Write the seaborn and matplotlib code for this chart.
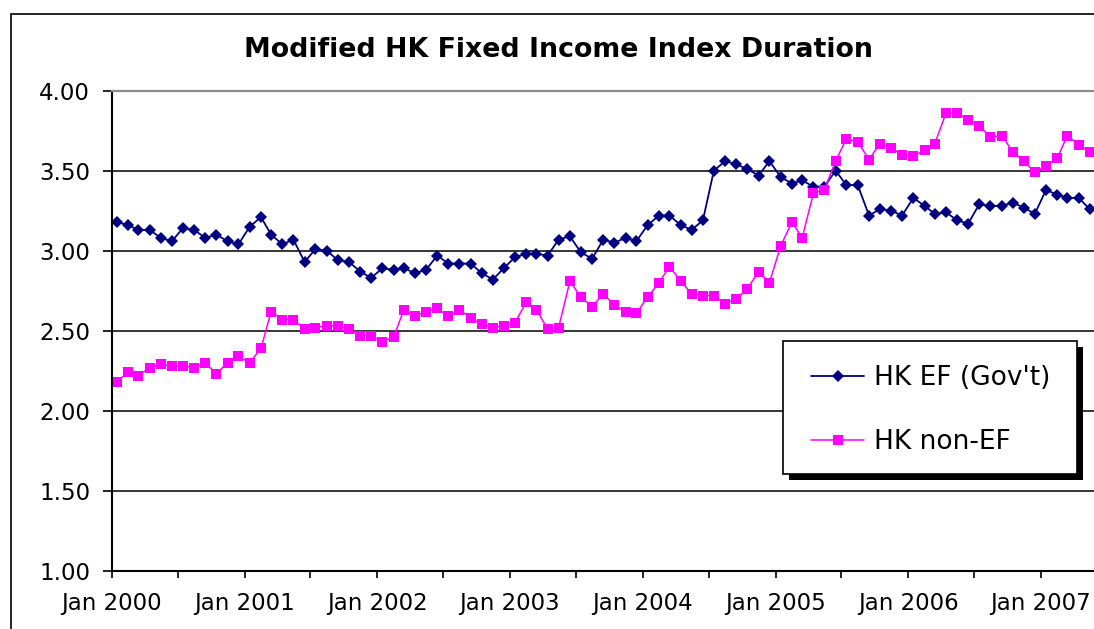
import matplotlib
matplotlib.use("Agg")
import matplotlib.pyplot as plt
import matplotlib.dates as mdates
from matplotlib.patches import Rectangle
import seaborn as sns
import pandas as pd

# monthly observations, Jan 2000 - May 2007 (plotted mid-month)
months = pd.date_range("2000-01-01", periods=89, freq="MS") + pd.Timedelta(days=14)

hk_ef = [3.18, 3.16, 3.13, 3.13, 3.08, 3.06, 3.14, 3.13, 3.08, 3.10, 3.06, 3.04,
         3.15, 3.21, 3.10, 3.04, 3.07, 2.93, 3.01, 3.00, 2.94, 2.93, 2.87, 2.83,
         2.89, 2.88, 2.89, 2.86, 2.88, 2.97, 2.92, 2.92, 2.92, 2.86, 2.82, 2.89,
         2.96, 2.98, 2.98, 2.97, 3.07, 3.09, 2.99, 2.95, 3.07, 3.05, 3.08, 3.06,
         3.16, 3.22, 3.22, 3.16, 3.13, 3.19, 3.50, 3.56, 3.54, 3.51, 3.47, 3.56,
         3.46, 3.42, 3.44, 3.40, 3.40, 3.50, 3.41, 3.41, 3.22, 3.26, 3.25, 3.22,
         3.33, 3.28, 3.23, 3.24, 3.19, 3.17, 3.29, 3.28, 3.28, 3.30, 3.27, 3.23,
         3.38, 3.35, 3.33, 3.33, 3.26]

hk_non_ef = [2.18, 2.24, 2.22, 2.27, 2.29, 2.28, 2.28, 2.27, 2.30, 2.23, 2.30, 2.34,
             2.30, 2.39, 2.62, 2.57, 2.57, 2.51, 2.52, 2.53, 2.53, 2.51, 2.47, 2.47,
             2.43, 2.46, 2.63, 2.59, 2.62, 2.64, 2.59, 2.63, 2.58, 2.54, 2.52, 2.53,
             2.55, 2.68, 2.63, 2.51, 2.52, 2.81, 2.71, 2.65, 2.73, 2.66, 2.62, 2.61,
             2.71, 2.80, 2.90, 2.81, 2.73, 2.72, 2.72, 2.67, 2.70, 2.76, 2.87, 2.80,
             3.03, 3.18, 3.08, 3.36, 3.38, 3.56, 3.70, 3.68, 3.57, 3.67, 3.64, 3.60,
             3.59, 3.63, 3.67, 3.86, 3.86, 3.82, 3.78, 3.71, 3.72, 3.62, 3.56, 3.49,
             3.53, 3.58, 3.72, 3.66, 3.62]

df = pd.DataFrame({"date": months, "ef": hk_ef, "non_ef": hk_non_ef})

sns.set_style("white")
plt.rcParams["font.family"] = ["DejaVu Sans"]
plt.rcParams.update({"text.color": "black", "xtick.color": "black",
                     "ytick.color": "black", "axes.labelcolor": "black"})

W, H = 1094, 629
fig = plt.figure(figsize=(W / 100, H / 100), dpi=100)
ax = fig.add_axes([111.6 / W, 1 - 570.7 / H, 1 - 111.6 / W, 480 / H])

sns.lineplot(data=df, x="date", y="ef", ax=ax, color="#000080", lw=1.3,
             marker="D", markersize=5.8, markeredgewidth=0, label="HK EF (Gov't)")
sns.lineplot(data=df, x="date", y="non_ef", ax=ax, color="#FF00FF", lw=1.1,
             marker="s", markersize=7.2, markeredgewidth=0, label="HK non-EF")

ax.set_xlim(pd.Timestamp("2000-01-01"), pd.Timestamp("2000-01-01") + pd.Timedelta(days=2703))
ax.set_ylim(1.0, 4.0)
ax.set_yticks([1.0, 1.5, 2.0, 2.5, 3.0, 3.5, 4.0])
ax.yaxis.set_major_formatter(matplotlib.ticker.FormatStrFormatter("%.2f"))
ax.xaxis.set_major_locator(mdates.YearLocator(1))
ax.xaxis.set_major_formatter(mdates.DateFormatter("%b %Y"))
ax.xaxis.set_minor_locator(mdates.MonthLocator(bymonth=7))
ax.set_xlabel("")
ax.set_ylabel("")

ax.yaxis.grid(True, color="black", lw=1.1)
ax.set_axisbelow(True)
ax.spines["top"].set_color("#8c8c8c")
ax.spines["top"].set_linewidth(1.6)
ax.spines["right"].set_visible(False)
for s in ["left", "bottom"]:
    ax.spines[s].set_color("black")
    ax.spines[s].set_linewidth(1.5)

ax.tick_params(axis="y", direction="out", length=6.5, width=1.2, pad=9,
               labelsize=16.5, left=True, color="black", labelcolor="black")
ax.tick_params(axis="x", which="both", direction="out", length=5, width=1.2,
               pad=10, labelsize=16.5, bottom=True, color="black", labelcolor="black")

ax.get_legend().remove()

fig.text(559 / W, 1 - 50 / H, "Modified HK Fixed Income Index Duration",
         ha="center", va="center", fontsize=19.3, fontweight="bold", color="black")

# outer chart border
fig.add_artist(Rectangle((11 / W, -0.5), 2, 1.5 - 14 / H, transform=fig.transFigure,
                         fill=False, ec="black", lw=1.2))

# legend box with shadow
fig.add_artist(Rectangle((789 / W, 1 - 480 / H), 294 / W, 133 / H,
                         transform=fig.transFigure, fc="black", ec="black", lw=0))
fig.add_artist(Rectangle((783 / W, 1 - 474 / H), 294 / W, 133 / H,
                         transform=fig.transFigure, fc="white", ec="black", lw=1.2))
handles, labels = ax.get_legend_handles_labels()
leg = fig.legend(handles, labels, loc="center", bbox_to_anchor=(931 / W, 1 - 410 / H),
                 frameon=False, fontsize=19, handlelength=2.0, handletextpad=0.4,
                 labelspacing=1.45)
for t in leg.get_texts():
    t.set_color("black")

fig.savefig("out.png", dpi=100)
